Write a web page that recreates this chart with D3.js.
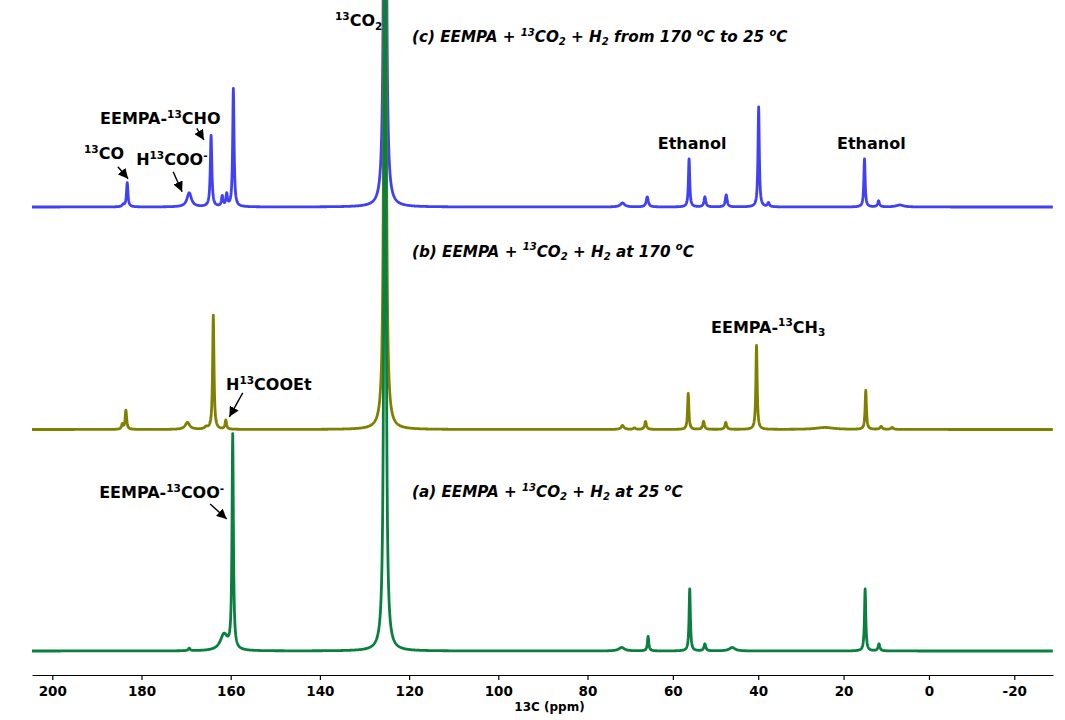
<!DOCTYPE html>
<html>
<head>
<meta charset="utf-8">
<title>13C NMR spectra</title>
<script src="https://cdn.jsdelivr.net/npm/d3@7"></script>
<style>
	body { margin: 0; background: #fff; }
	svg { display: block; font-family: "DejaVu Sans", sans-serif; }
	text { white-space: pre; }
</style>
</head>
<body>
<svg id="chart" width="1065" height="720"></svg>
<script>
	// axis ticks (ppm)
	var majorTicks = [200, 180, 160, 140, 120, 100, 80, 60, 40, 20, 0, -20];
	var minorTicks = [190, 170, 150, 130, 110, 90, 70, 50, 30, 10, -10];

	// (c) EEMPA + 13CO2 + H2 from 170 C to 25 C
	var peaksC_ppm = [184.1, 183.2, 169.3, 164.4, 161.9, 160.9, 159.4, 125.4, 71.8, 66.0, 56.2, 52.5, 47.5, 39.9, 37.6, 15.1, 11.8, 6.8];
	var peaksC_int = [2, 24, 14, 71, 10, 12, 118, 1200, 4, 10, 48, 10, 12, 100, 4, 48, 6, 2];
	var peaksC_hw  = [0.3, 0.2, 0.6, 0.2, 0.2, 0.2, 0.18, 0.19, 0.6, 0.3, 0.18, 0.25, 0.25, 0.18, 0.25, 0.18, 0.25, 1.0];

	// (b) EEMPA + 13CO2 + H2 at 170 C
	var peaksB_ppm = [184.3, 183.5, 169.7, 165.5, 163.9, 161.1, 125.4, 71.8, 69.0, 66.4, 56.4, 52.8, 47.6, 40.4, 24.4, 14.8, 11.2, 8.6];
	var peaksB_int = [5, 19, 7, 2, 114, 9, 1200, 4, 1.5, 8, 36, 8, 7, 84, 2, 39, 3, 2];
	var peaksB_hw  = [0.2, 0.2, 0.6, 0.4, 0.18, 0.2, 0.19, 0.4, 0.3, 0.25, 0.18, 0.25, 0.25, 0.18, 2.5, 0.18, 0.3, 0.3];

	// (a) EEMPA + 13CO2 + H2 at 25 C
	var peaksA_ppm = [169.3, 161.5, 159.55, 125.4, 72.0, 65.8, 56.05, 52.5, 46.1, 14.95, 11.7];
	var peaksA_int = [2.5, 16, 214, 1200, 3.5, 14.5, 62, 7, 3.5, 62, 7];
	var peaksA_hw  = [0.25, 1.0, 0.18, 0.19, 0.8, 0.2, 0.18, 0.25, 0.8, 0.18, 0.25];

	var svg = d3.select("#chart");

	// the printed axis is not quite uniform, so a piecewise scale
	var x = d3.scaleLinear()
		.domain([204.6, 200, 80, -20, -29])
		.range([32, 52.3, 587.5, 1014.3, 1053]);

	function spectrum(ppm, inten, hw) {
		var grid = d3.range(204.6, -29, -0.05).concat(ppm);
		grid.sort(function(a, b) { return b - a; });
		return grid.map(function(p) {
			var v = 0;
			for (var i = 0; i < ppm.length; ++i) {
				var d = (p - ppm[i]) / hw[i];
				v += inten[i] / (1 + d * d);
			}
			return [p, v];
		});
	}

	var traces = [
		{ data: spectrum(peaksC_ppm, peaksC_int, peaksC_hw), base: 207, color: "#4040f6" },
		{ data: spectrum(peaksB_ppm, peaksB_int, peaksB_hw), base: 429.5, color: "#808000" },
		{ data: spectrum(peaksA_ppm, peaksA_int, peaksA_hw), base: 651, color: "#0a8040" }
	];
	traces.forEach(function(t) {
		t.y = d3.scaleLinear().domain([0, 100]).range([t.base, t.base - 100]);
	});

	traces.forEach(function(t) {
		var line = d3.line()
			.x(function(d) { return x(d[0]); })
			.y(function(d) { return t.y(d[1]); });
		svg.append("path")
			.datum(t.data)
			.attr("fill", "none")
			.attr("stroke", t.color)
			.attr("stroke-width", 2.8)
			.attr("stroke-linejoin", "round")
			.attr("d", line);
	});

	// axis
	var axisG = svg.append("g").attr("transform", "translate(0,675)");
	axisG.call(d3.axisBottom(x).tickValues(minorTicks).tickFormat("").tickSize(3).tickSizeOuter(0));
	axisG.call(d3.axisBottom(x).tickValues(majorTicks).tickFormat(function(d) { return String(d); }).tickSize(5).tickSizeOuter(0).tickPadding(6));
	axisG.selectAll("path, line").attr("stroke", "#000").attr("stroke-width", 1.2);
	axisG.selectAll("text")
		.attr("font-family", "DejaVu Sans")
		.attr("font-size", 13.5)
		.attr("font-weight", "bold")
		.attr("fill", "#000");

	svg.append("text")
		.attr("x", 549.5).attr("y", 711)
		.attr("text-anchor", "middle")
		.attr("font-size", 12).attr("font-weight", "bold")
		.text("13C (ppm)");

	// rich text with super/subscripts
	function richText(parts, px, py, size, italic, anchor) {
		var t = svg.append("text")
			.attr("x", px).attr("y", py)
			.attr("font-size", size)
			.attr("font-weight", "bold")
			.attr("font-style", italic ? "italic" : "normal")
			.attr("text-anchor", anchor || "start")
			.attr("fill", "#000");
		var shift = 0;
		parts.forEach(function(p) {
			var kind = p[1] || "";
			var target = kind == "sup" ? -size * 0.4 : (kind == "sub" ? size * 0.22 : 0);
			t.append("tspan")
				.attr("dy", target - shift)
				.attr("font-size", kind ? size * 0.66 : size)
				.text(p[0]);
			shift = target;
		});
	}

	svg.append("defs").append("marker")
		.attr("id", "arrow")
		.attr("markerUnits", "userSpaceOnUse")
		.attr("viewBox", "0 0 10 10")
		.attr("refX", 10).attr("refY", 5)
		.attr("markerWidth", 10).attr("markerHeight", 10)
		.attr("orient", "auto")
		.append("path").attr("d", "M0,0 L10,5 L0,10 z").attr("fill", "#000");

	function arrow(t, p1, i1, p2, i2) {
		svg.append("line")
			.attr("x1", x(p1)).attr("y1", t.y(i1))
			.attr("x2", x(p2)).attr("y2", t.y(i2))
			.attr("stroke", "#000").attr("stroke-width", 1.4)
			.attr("marker-end", "url(#arrow)");
	}

	var tc = traces[0], tb = traces[1], ta = traces[2];

	// titles
	richText([["(c) EEMPA + "], ["13", "sup"], ["CO"], ["2", "sub"], [" + H"], ["2", "sub"], [" from 170 "], ["o", "sup"], ["C to 25 "], ["o", "sup"], ["C"]],
		x(119.35), tc.y(165), 15.2, true);
	richText([["(b) EEMPA + "], ["13", "sup"], ["CO"], ["2", "sub"], [" + H"], ["2", "sub"], [" at 170 "], ["o", "sup"], ["C"]],
		x(119.35), tb.y(173), 15.2, true);
	richText([["(a) EEMPA + "], ["13", "sup"], ["CO"], ["2", "sub"], [" + H"], ["2", "sub"], [" at 25 "], ["o", "sup"], ["C"]],
		x(119.35), ta.y(154), 15.2, true);

	// peak labels
	richText([["13", "sup"], ["CO"], ["2", "sub"]], x(126.0), tc.y(181), 16, false, "end");

	richText([["13", "sup"], ["CO"]], x(192.9), tc.y(48), 16, false);
	arrow(tc, 185.3, 40.3, 183.0, 28.3);

	richText([["H"], ["13", "sup"], ["COO"], ["-", "sup"]], x(181.2), tc.y(42), 16, false);
	arrow(tc, 172.9, 35.3, 170.9, 15.3);

	richText([["EEMPA-"], ["13", "sup"], ["CHO"]], x(189.3), tc.y(83), 16, false);
	arrow(tc, 167.6, 78.7, 166.0, 67);

	richText([["Ethanol"]], x(55.5), tc.y(57.7), 16, false, "middle");
	richText([["Ethanol"]], x(13.5), tc.y(58), 16, false, "middle");

	richText([["H"], ["13", "sup"], ["COOEt"]], x(161.05), tb.y(39.3), 16, false);
	arrow(tb, 157.3, 36.7, 160.3, 12.7);

	richText([["EEMPA-"], ["13", "sup"], ["CH"], ["3", "sub"]], x(51.06), tb.y(96.7), 16, false);

	richText([["EEMPA-"], ["13", "sup"], ["COO"], ["-", "sup"]], x(189.5), ta.y(152.7), 16, false);
	arrow(ta, 164.6, 147, 160.9, 132);
</script>
</body>
</html>
